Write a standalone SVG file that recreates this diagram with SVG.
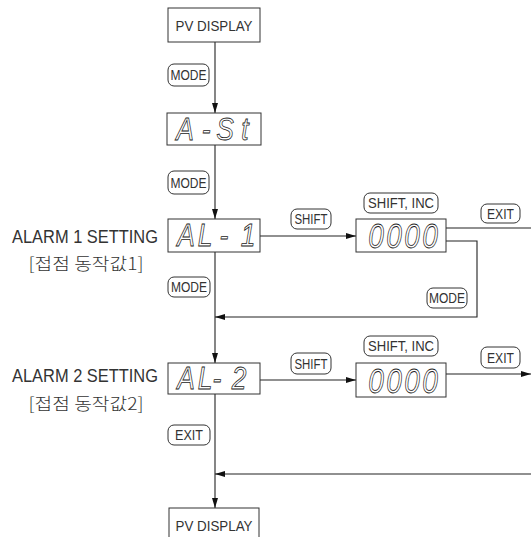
<svg xmlns="http://www.w3.org/2000/svg" width="531" height="537" viewBox="0 0 531 537">
<defs>
<marker id="ah" viewBox="0 0 10 6" refX="10" refY="3" markerWidth="10" markerHeight="6" markerUnits="userSpaceOnUse" orient="auto">
<path d="M0,0 L10,3 L0,6 Z" fill="#111"/>
</marker>
<style>
.box{fill:#fff;stroke:#333;stroke-width:1}
.lbl{fill:#fff;stroke:#333;stroke-width:1}
.t{font-family:"Liberation Sans",Arial,sans-serif;fill:#333;text-anchor:middle}
.lt{font-family:"Liberation Sans",Arial,sans-serif;fill:#333;text-anchor:middle;font-size:14px}
.side{font-family:"Liberation Sans","Noto Sans CJK KR",sans-serif;fill:#333;text-anchor:middle}
.kr{font-family:"Noto Sans CJK KR","Liberation Sans",sans-serif;font-weight:300;fill:#333;text-anchor:middle}
.seg{font-family:"Liberation Sans",Arial,sans-serif;font-style:italic;font-size:31px;fill:#fff;stroke:#222;stroke-width:0.8;text-anchor:middle}
.seg0{font-family:"Liberation Sans",Arial,sans-serif;font-style:italic;font-size:35px;fill:#fff;stroke:#222;stroke-width:0.8;text-anchor:middle}
.c{fill:none;stroke:#222;stroke-width:1.1}
</style>
</defs>
<g id="connectors">
<path class="c" d="M215,42 V113" marker-end="url(#ah)"/>
<path class="c" d="M215,145 V219" marker-end="url(#ah)"/>
<path class="c" d="M215,252 V363" marker-end="url(#ah)"/>
<path class="c" d="M215,393 V508" marker-end="url(#ah)"/>
<path class="c" d="M260,236 H356" marker-end="url(#ah)"/>
<path class="c" d="M446,228 H531"/>
<path class="c" d="M446,241 H477 V317 H215" marker-end="url(#ah)"/>
<path class="c" d="M260,380 H356" marker-end="url(#ah)"/>
<path class="c" d="M446,374 H531" marker-end="url(#ah)"/>
<path class="c" d="M531,474 H215" marker-end="url(#ah)"/>
</g>
<g id="pv-top">
<rect class="box" x="168" y="8" width="92" height="34"/>
<text class="t" x="214" y="31" font-size="14" textLength="77" lengthAdjust="spacingAndGlyphs">PV DISPLAY</text>
</g>
<g id="a-st">
<rect class="box" x="167" y="113" width="94" height="32"/>
<text class="seg" transform="translate(0,140) scale(0.85,1)"><tspan x="217.6">A</tspan><tspan x="242.4">-</tspan><tspan x="264.7">S</tspan><tspan x="288.2">t</tspan></text>
</g>
<g id="al1">
<rect class="box" x="168" y="219" width="92" height="33"/>
<text class="seg" transform="translate(0,246) scale(0.85,1)"><tspan x="218.8">A</tspan><tspan x="241.2">L</tspan><tspan x="263.5">-</tspan><tspan x="291.8">1</tspan></text>
<text class="side" x="85" y="243" font-size="18" textLength="146" lengthAdjust="spacingAndGlyphs">ALARM 1 SETTING</text>
<text class="kr" x="86" y="270" font-size="17" textLength="115" lengthAdjust="spacingAndGlyphs">[접점 동작값1]</text>
</g>
<g id="val1">
<rect class="box" x="356" y="219" width="90" height="33"/>
<text class="seg0" transform="translate(0,248) scale(0.8,1)"><tspan x="470">0</tspan><tspan x="492.5">0</tspan><tspan x="515">0</tspan><tspan x="537.5">0</tspan></text>
</g>
<g id="al2">
<rect class="box" x="168" y="363" width="92" height="31"/>
<text class="seg" transform="translate(0,389) scale(0.85,1)"><tspan x="218.8">A</tspan><tspan x="241.2">L</tspan><tspan x="255.3">-</tspan><tspan x="281.2">2</tspan></text>
<text class="side" x="85" y="382" font-size="18" textLength="146" lengthAdjust="spacingAndGlyphs">ALARM 2 SETTING</text>
<text class="kr" x="86" y="410" font-size="17" textLength="115" lengthAdjust="spacingAndGlyphs">[접점 동작값2]</text>
</g>
<g id="val2">
<rect class="box" x="356" y="363" width="90" height="34"/>
<text class="seg0" transform="translate(0,393) scale(0.8,1)"><tspan x="470">0</tspan><tspan x="492.5">0</tspan><tspan x="515">0</tspan><tspan x="537.5">0</tspan></text>
</g>
<g id="pv-bottom">
<rect class="box" x="169" y="508" width="90" height="40"/>
<text class="t" x="214" y="531" font-size="14" textLength="77" lengthAdjust="spacingAndGlyphs">PV DISPLAY</text>
</g>
<g id="labels">
<rect class="lbl" x="168" y="64" width="41" height="22" rx="6"/>
<text class="lt" x="188.5" y="80" textLength="36" lengthAdjust="spacingAndGlyphs">MODE</text>
<rect class="lbl" x="168" y="171" width="41" height="23" rx="6"/>
<text class="lt" x="188.5" y="187.5" textLength="36" lengthAdjust="spacingAndGlyphs">MODE</text>
<rect class="lbl" x="168" y="277" width="42" height="20" rx="6"/>
<text class="lt" x="189" y="292" textLength="36" lengthAdjust="spacingAndGlyphs">MODE</text>
<rect class="lbl" x="291" y="209" width="40" height="20" rx="6"/>
<text class="lt" x="311" y="224" textLength="33" lengthAdjust="spacingAndGlyphs">SHIFT</text>
<rect class="lbl" x="364" y="193" width="74" height="20" rx="6"/>
<text class="lt" x="401" y="208" textLength="66" lengthAdjust="spacingAndGlyphs">SHIFT, INC</text>
<rect class="lbl" x="481" y="204" width="39" height="19" rx="6"/>
<text class="lt" x="500.5" y="218.5" textLength="27" lengthAdjust="spacingAndGlyphs">EXIT</text>
<rect class="lbl" x="427" y="288" width="40" height="20" rx="6"/>
<text class="lt" x="447" y="303" textLength="36" lengthAdjust="spacingAndGlyphs">MODE</text>
<rect class="lbl" x="291" y="353" width="40" height="21" rx="6"/>
<text class="lt" x="311" y="368.5" textLength="33" lengthAdjust="spacingAndGlyphs">SHIFT</text>
<rect class="lbl" x="364" y="336" width="74" height="20" rx="6"/>
<text class="lt" x="401" y="351" textLength="66" lengthAdjust="spacingAndGlyphs">SHIFT, INC</text>
<rect class="lbl" x="481" y="347" width="39" height="21" rx="6"/>
<text class="lt" x="500.5" y="362.5" textLength="27" lengthAdjust="spacingAndGlyphs">EXIT</text>
<rect class="lbl" x="168" y="425" width="42" height="20" rx="6"/>
<text class="lt" x="189" y="440" textLength="28" lengthAdjust="spacingAndGlyphs">EXIT</text>
</g>
</svg>
